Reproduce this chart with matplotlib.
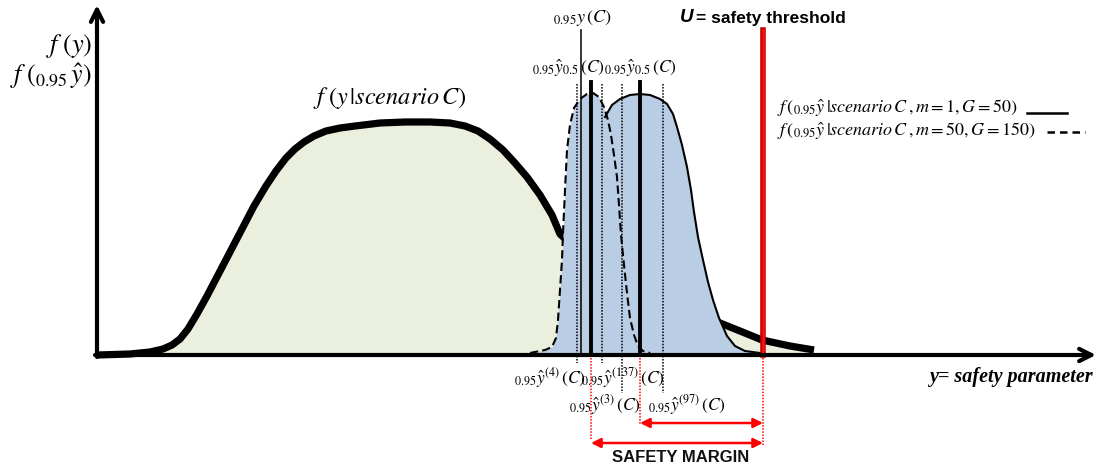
import numpy as np
import matplotlib.pyplot as plt

plt.rcParams['mathtext.fontset'] = 'stix'
plt.rcParams['font.family'] = 'DejaVu Sans'

# Schematic drawn in picture units (x to the right, y downward), baseline at 355
BASE = 355

# f(y | scenario C): broad density
scen_x = [97, 130, 150, 163, 172, 180, 188, 197, 207, 218, 230, 242, 254, 266, 276, 286,
          295, 304, 314, 326, 340, 355, 380, 405, 430, 450, 465, 478, 490, 503, 515, 527,
          540, 552, 560, 590, 620, 650, 680, 715, 740, 762, 790, 814]
scen_f = [355, 354, 352, 349, 345, 339, 329, 314, 296, 275, 252, 229, 206, 186, 171, 158,
          149, 142, 136, 131, 128, 126, 123, 122, 122, 123, 126, 131, 139, 150, 163, 177,
          195, 215, 234, 262, 280, 295, 307, 321, 331, 340, 346, 350]

# f(0.95 y^ | scenario C, m=50, G=150): dashed
dash_x = [530, 545, 552, 556, 558, 560, 562, 563, 565, 567, 570, 574, 580, 587, 593, 599,
          604, 608, 611, 614, 617, 619, 621, 624, 627, 630, 634, 638, 643, 650]
dash_f = [353, 350, 347, 338, 320, 290, 260, 233, 190, 150, 125, 108, 99, 94, 93, 97,
          107, 120, 135, 155, 177, 205, 235, 265, 293, 318, 335, 346, 351, 353]

# f(0.95 y^ | scenario C, m=1, G=50): solid
sol_x = [605, 612, 620, 630, 640, 650, 660, 667, 673, 677, 682, 687, 691, 694, 698, 703,
         708, 713, 719, 727, 735, 745, 760]
sol_f = [117, 105, 99, 95, 94, 95, 99, 104, 114, 127, 145, 167, 190, 212, 237, 260,
         282, 300, 318, 336, 346, 351, 353]

# quantile markers
y95_x = 581                       # 0.95 y(C)
med_x = [591, 640]                # 0.95 y^_0.5(C)
q_dot_x = [577, 602, 622, 663]    # y^(4), y^(137), y^(3), y^(97)
q_dot_bottom = [363, 363, 393, 393]
q_labels = [r'${}_{0.95}\hat{y}^{(4)}\,(C)$', r'${}_{0.95}\hat{y}^{(137)}\,(C)$',
            r'${}_{0.95}\hat{y}^{(3)}\,(C)$', r'${}_{0.95}\hat{y}^{(97)}\,(C)$']
q_label_x = [550, 623, 605, 687]
q_label_y = [378, 378, 405, 405]
U_x = 763

GREEN = '#EBEFDD'
BLUE = '#B9CDE4'
NARROW = ['Liberation Sans Narrow', 'Liberation Sans', 'DejaVu Sans']

fig = plt.figure(figsize=(10.99, 4.69), dpi=100)
ax = fig.add_axes([0, 0, 1, 1])
ax.set_xlim(0, 1099)
ax.set_ylim(469, 0)
ax.axis('off')

# broad scenario density
sx = np.array(scen_x); sf = np.array(scen_f)
ax.fill_between(sx, sf, BASE, color=GREEN, lw=0, zorder=1)
ax.plot(sx, sf, color='black', lw=5.2, solid_joinstyle='round', solid_capstyle='butt', zorder=2)

# blue area = union of the two estimator densities
dx = np.array(dash_x); df = np.array(dash_f)
keep = dx < sol_x[0]
bx = np.concatenate([dx[keep], sol_x])
bf = np.concatenate([df[keep], sol_f])
ax.fill_between(bx, bf, BASE, color=BLUE, lw=0, zorder=3)
ax.plot(sol_x, sol_f, color='black', lw=1.5, zorder=4)
ax.plot(dx, df, color='black', lw=1.5, ls=(0, (4, 2)), zorder=4)

# vertical markers
ax.plot([y95_x, y95_x], [30, BASE], color='black', lw=1.1, zorder=5)
for mx in med_x:
    ax.plot([mx, mx], [82, BASE], color='black', lw=2.8, zorder=5)
for qx, qb in zip(q_dot_x, q_dot_bottom):
    ax.plot([qx, qx], [84, qb], color='black', lw=1.1, ls=(0, (1, 1)), zorder=5)

# safety threshold
ax.plot([U_x, U_x], [30, BASE], color='#C00000', lw=4, zorder=6)
ax.plot([U_x, U_x], [30, BASE], color='#FF1010', lw=1.8, zorder=6)

# axes arrows
ax.annotate('', xy=(97, 5), xytext=(97, BASE + 2),
            arrowprops=dict(arrowstyle='->', lw=3, color='black', mutation_scale=22,
                            shrinkA=0, shrinkB=0), zorder=7)
ax.annotate('', xy=(1096, BASE), xytext=(95, BASE),
            arrowprops=dict(arrowstyle='->', lw=3, color='black', mutation_scale=22,
                            shrinkA=0, shrinkB=0), zorder=7)

# safety margin
for rx, rb in [(med_x[0], 440), (med_x[1], 425), (U_x, 445)]:
    ax.plot([rx, rx], [BASE + 3, rb], color='red', lw=1.1, ls=(0, (1, 1)), zorder=5)
for x0, yy in [(med_x[1], 423), (med_x[0], 443)]:
    ax.annotate('', xy=(U_x, yy), xytext=(x0, yy),
                arrowprops=dict(arrowstyle='<|-|>', lw=1.8, color='red', mutation_scale=14,
                                shrinkA=0, shrinkB=0), zorder=6)
ax.text(681, 457, 'SAFETY MARGIN', ha='center', va='center', fontsize=12,
        fontweight='bold', color='#111111', family=NARROW)

# text
ax.text(92, 46, r'$f\;(y)$', ha='right', va='center', fontsize=19)
ax.text(92, 76, r'$f\;({}_{0.95}\,\hat{y})$', ha='right', va='center', fontsize=18.5)
ax.text(390, 98, r'$f\;(y\,|scenario\,C)$', ha='center', va='center', fontsize=17.5)
ax.text(582, 18, r'${}_{0.95}y\,(C)$', ha='center', va='center', fontsize=13)
ax.text(568, 68, r'${}_{0.95}\hat{y}_{0.5}\,(C)$', ha='center', va='center', fontsize=12.5)
ax.text(640, 68, r'${}_{0.95}\hat{y}_{0.5}\,(C)$', ha='center', va='center', fontsize=12.5)
for lab, lx, ly in zip(q_labels, q_label_x, q_label_y):
    ax.text(lx, ly, lab, ha='center', va='center', fontsize=12.5)

ax.text(777, 108, r'$f\,({}_{0.95}\hat{y}\,|scenario\,C\,, m=1, G=50)$', ha='left', va='center', fontsize=13)
ax.text(777, 131, r'$f\,({}_{0.95}\hat{y}\,|scenario\,C\,, m=50, G=150)$', ha='left', va='center', fontsize=13)
ax.plot([1027, 1067], [113, 113], color='black', lw=1.8)
ax.plot([1047, 1085], [132, 132], color='black', lw=1.8, ls=(0, (3, 2)))

ax.text(680, 18, 'U', ha='left', va='center', fontsize=13.5, fontweight='bold', style='italic',
        family=NARROW)
ax.text(696, 18, '= safety threshold', ha='left', va='center', fontsize=12.5, fontweight='bold',
        family=NARROW)
ax.text(1093, 377, 'y= safety parameter', ha='right', va='center', fontsize=14.5,
        fontweight='bold', style='italic', family='Liberation Serif')

fig.savefig('out.png', dpi=100)
